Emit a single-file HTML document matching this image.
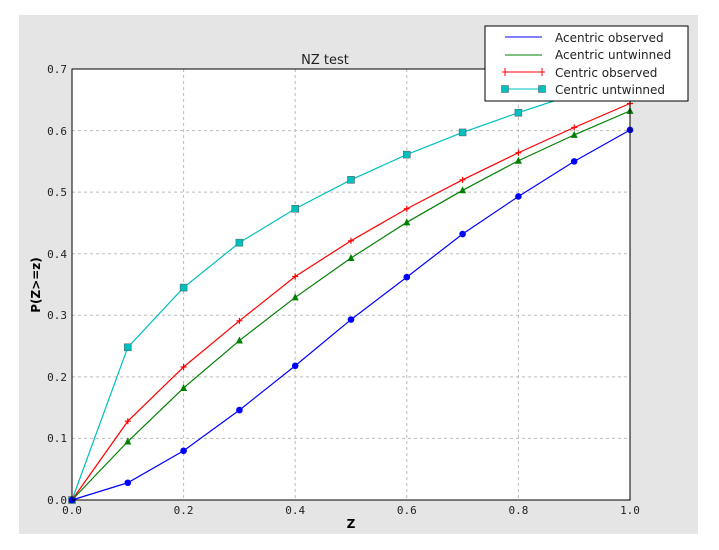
<!DOCTYPE html>
<html><head><style>body{margin:0;background:#fff}svg{display:block}</style></head><body>
<svg width="719" height="550" xmlns="http://www.w3.org/2000/svg" font-family="DejaVu Sans Mono, Liberation Mono, monospace">
<rect x="19" y="15" width="679" height="519" fill="#e5e5e5"/>
<rect x="72" y="69" width="558" height="431" fill="#fff"/>
<g stroke="#bbb" stroke-dasharray="3,3" stroke-width="1">
<line x1="183.6" y1="69" x2="183.6" y2="500"/><line x1="295.2" y1="69" x2="295.2" y2="500"/><line x1="406.8" y1="69" x2="406.8" y2="500"/><line x1="518.4" y1="69" x2="518.4" y2="500"/>
<line x1="72" y1="438.4" x2="630" y2="438.4"/><line x1="72" y1="376.9" x2="630" y2="376.9"/><line x1="72" y1="315.3" x2="630" y2="315.3"/><line x1="72" y1="253.7" x2="630" y2="253.7"/><line x1="72" y1="192.1" x2="630" y2="192.1"/><line x1="72" y1="130.6" x2="630" y2="130.6"/>
</g>
<g id="series" fill="none" stroke-width="1.2"></g>
<rect x="72" y="69" width="558" height="431" fill="none" stroke="#000" stroke-width="1"/>
<g font-size="11" fill="#222" text-anchor="end">
<text x="67" y="504">0.0</text><text x="67" y="442">0.1</text><text x="67" y="381">0.2</text><text x="67" y="319">0.3</text><text x="67" y="258">0.4</text><text x="67" y="196">0.5</text><text x="67" y="135">0.6</text><text x="67" y="73">0.7</text>
</g>
<g font-size="11" fill="#222" text-anchor="middle">
<text x="72" y="514">0.0</text><text x="183.6" y="514">0.2</text><text x="295.2" y="514">0.4</text><text x="406.8" y="514">0.6</text><text x="518.4" y="514">0.8</text><text x="630" y="514">1.0</text>
</g>
<text x="351" y="528" font-family="DejaVu Sans, sans-serif" font-weight="bold" font-size="12" text-anchor="middle">Z</text>
<text transform="translate(40,285) rotate(-90)" font-family="DejaVu Sans, sans-serif" font-weight="bold" font-size="12" text-anchor="middle">P(Z&gt;=z)</text>
<text x="325" y="64" font-family="DejaVu Sans, sans-serif" font-size="13" text-anchor="middle" fill="#222">NZ test</text>
<g id="legend">
<rect x="485" y="26" width="203" height="75" fill="#fff" stroke="#000"/>
<g font-family="DejaVu Sans, sans-serif" font-size="12" fill="#222">
<text x="555" y="42">Acentric observed</text><text x="555" y="59">Acentric untwinned</text><text x="555" y="77">Centric observed</text><text x="555" y="94">Centric untwinned</text>
</g>
<line x1="505" y1="37" x2="542" y2="37" stroke="#0000ff"/>
<line x1="505" y1="55" x2="542" y2="55" stroke="#008000"/>
<line x1="505" y1="72" x2="542" y2="72" stroke="#ff0000"/><path d="M505 68v8M502 72h6M542 68v8M539 72h6" stroke="#ff0000"/>
<line x1="505" y1="89" x2="542" y2="89" stroke="#00bfbf"/>
<rect x="501.5" y="85.5" width="7" height="7" fill="#00bfbf" stroke="#555" stroke-width="0.5"/><rect x="538.5" y="85.5" width="7" height="7" fill="#00bfbf" stroke="#555" stroke-width="0.5"/>
</g>
</svg>
<script>
const S=document.getElementById('series'),ns='http://www.w3.org/2000/svg';
const X=i=>72+i*55.8,Y=v=>500-v*615.7;
const d={
c:[[0,.248,.345,.418,.473,.520,.561,.597,.629,.659,.688],'#00bfbf','sq'],
r:[[0,.128,.216,.291,.363,.421,.473,.520,.564,.605,.644],'#ff0000','plus'],
g:[[0,.095,.182,.259,.329,.393,.451,.503,.551,.593,.632],'#008000','tri'],
b:[[0,.028,.080,.146,.218,.293,.362,.432,.493,.550,.601],'#0000ff','circ']};
const legend=document.getElementById('legend');
for(const k in d){const [v,c,m]=d[k];
const p=document.createElementNS(ns,'polyline');p.setAttribute('points',v.map((y,i)=>X(i)+','+Y(y)).join(' '));p.setAttribute('stroke',c);S.appendChild(p);
v.forEach((y,i)=>{const x=X(i),yy=Y(y);let e;
if(m=='sq'){e=document.createElementNS(ns,'rect');e.setAttribute('x',x-3.5);e.setAttribute('y',yy-3.5);e.setAttribute('width',7);e.setAttribute('height',7);e.setAttribute('fill',c);e.setAttribute('stroke','#555');e.setAttribute('stroke-width','0.5');}
else if(m=='plus'){e=document.createElementNS(ns,'path');e.setAttribute('d',`M${x-3} ${yy}h6M${x} ${yy-3}v6`);e.setAttribute('stroke',c);}
else if(m=='tri'){e=document.createElementNS(ns,'polygon');e.setAttribute('points',`${x},${yy-4} ${x-3.5},${yy+3} ${x+3.5},${yy+3}`);e.setAttribute('fill',c);}
else{e=document.createElementNS(ns,'circle');e.setAttribute('cx',x);e.setAttribute('cy',yy);e.setAttribute('r',3.3);e.setAttribute('fill',c);}
S.appendChild(e);});}
S.parentNode.appendChild(legend);
</script>
</body></html>
